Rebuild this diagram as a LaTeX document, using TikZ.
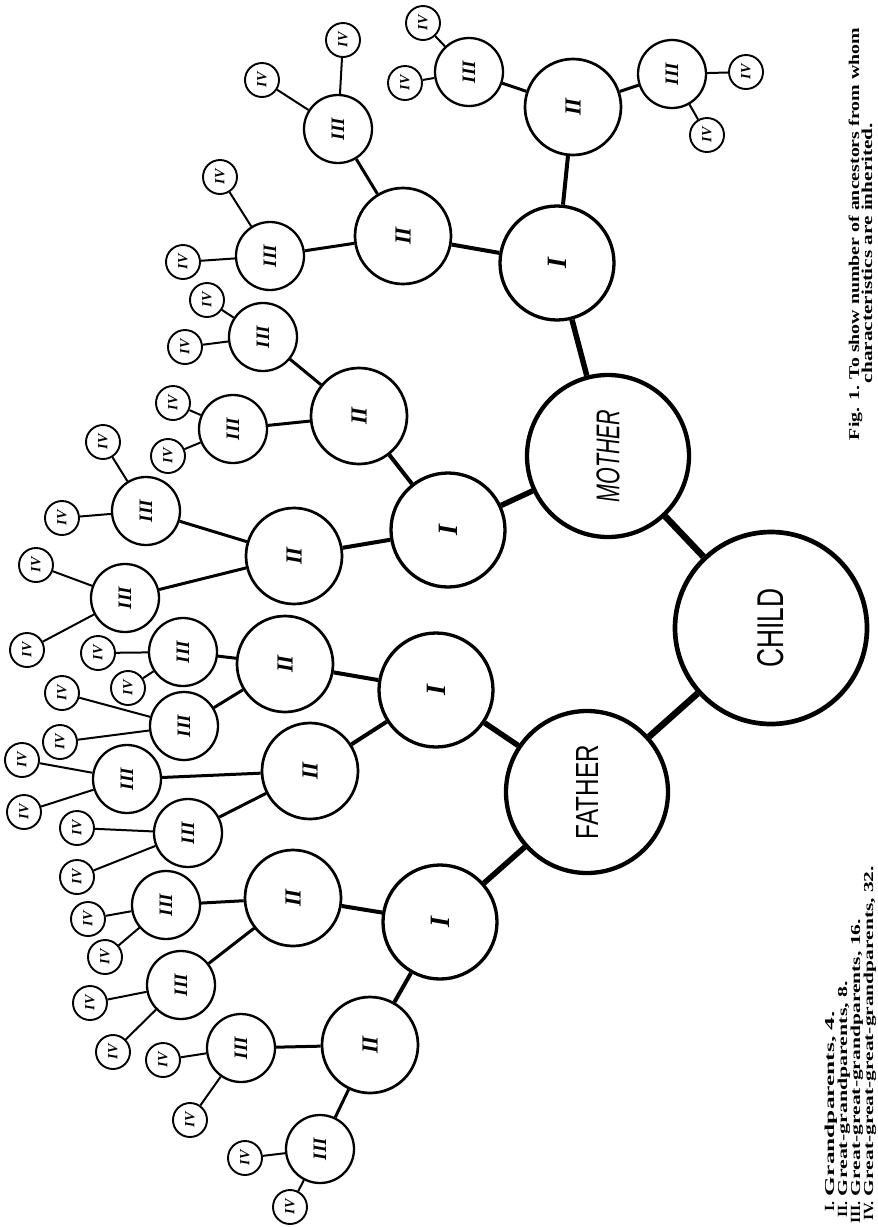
\documentclass[tikz,border=0pt]{standalone}
\usepackage{fontspec}
\setmainfont{Liberation Serif}
\setsansfont{Liberation Sans}
\usepackage{graphicx}
\begin{document}
\begin{tikzpicture}[x=1pt,y=-1pt,
  circ/.style={circle,draw,fill=white,inner sep=0pt,rotate=90},
  cc/.style={circ,minimum size=192pt,line width=4.7pt},
  cp/.style={circ,minimum size=162pt,line width=4.3pt},
  c1/.style={circ,minimum size=114pt,line width=3.3pt,font=\fontsize{28}{28}\selectfont\bfseries\itshape},
  c2/.style={circ,minimum size=96pt,line width=2.7pt,font=\fontsize{23}{23}\selectfont\bfseries\itshape},
  c3/.style={circ,minimum size=68pt,line width=2.3pt,font=\fontsize{19}{19}\selectfont\bfseries\itshape},
  c4/.style={circ,minimum size=34pt,line width=1.9pt,font=\fontsize{14}{14}\selectfont\bfseries\itshape},
  e0/.style={line width=6.5pt},
  e1/.style={line width=5.5pt},
  e2/.style={line width=4pt},
  e3/.style={line width=3pt},
  e4/.style={line width=2pt},
  txt/.style={rotate=90,inner sep=0pt,outer sep=0pt,font=\bfseries}
]
\useasboundingbox (0,0) rectangle (878,1227);
\fill[white] (0,0) rectangle (878,1227);

% main nodes
\node[cc] (C) at (771,628) {\resizebox{79pt}{26pt}{\sffamily CHILD}};
\node[cp] (F) at (587,792) {\resizebox{94pt}{22pt}{\sffamily FATHER}};
\node[cp] (M) at (608,456) {\resizebox{93pt}{23pt}{\sffamily\itshape MOTHER}};

% grandparents I
\foreach \n/\x/\y in {MI1/557/263, MI2/448/530, FI1/436/690, FI2/440/922}
  \node[c1] (\n) at (\x,\y) {I};

% II
\foreach \n/\x/\y in {MA/573/107, MB/403/236, MC/359/416, MD/294/556,
                      FA/285/664, FB/310/771, FC/293/898, FD/370/1045}
  \node[c2] (\n) at (\x,\y) {II};

% III
\foreach \n/\x/\y in {MA1/469/72, MA2/672/74, MB1/338/129, MB2/270/256,
                      MC1/263/337, MC2/233/429, MD1/146/511, MD2/125/598,
                      FA1/183/652, FA2/184/726, FB1/127/779, FB2/188/833,
                      FC1/166/905, FC2/181/985, FD1/241/1048, FD2/320/1149}
  \node[c3] (\n) at (\x,\y) {III};

% IV
\foreach \n/\x/\y in {MA1a/423/23, MA1b/405/83, MA2a/746/72, MA2b/707/135,
                      MB1a/343/40, MB1b/262/80, MB2a/220/177, MB2b/183/262,
                      MC1a/207/300, MC1b/185/347, MC2a/173/403, MC2b/168/456,
                      MD1a/103/442, MD1b/62/518, MD2a/36/565, MD2b/27/650,
                      FA1a/98/653, FA1b/128/688, FA2a/62/693, FA2b/60/742,
                      FB1a/22/760, FB1b/24/812, FB2a/77/828, FB2b/77/877,
                      FC1a/88/919, FC1b/105/957, FC2a/90/1003, FC2b/113/1052,
                      FD1a/163/1060, FD1b/190/1120, FD2a/245/1158, FD2b/290/1207}
  \node[c4] (\n) at (\x,\y) {IV};

% connectors
\draw[e0] (C) -- (F);
\draw[e0] (C) -- (M);
\foreach \a/\b in {F/FI1, F/FI2, M/MI1, M/MI2}
  \draw[e1] (\a) -- (\b);
\foreach \a/\b in {MI1/MA, MI1/MB, MI2/MC, MI2/MD, FI1/FA, FI1/FB, FI2/FC, FI2/FD}
  \draw[e2] (\a) -- (\b);
\foreach \p in {MA,MB,MC,MD,FA,FB,FC,FD}{
  \draw[e3] (\p) -- (\p1);
  \draw[e3] (\p) -- (\p2);
}
\foreach \p in {MA1,MA2,MB1,MB2,MC1,MC2,MD1,MD2,FA1,FA2,FB1,FB2,FC1,FC2,FD1,FD2}{
  \draw[e4] (\p) -- (\p a);
  \draw[e4] (\p) -- (\p b);
}

% caption
\node[txt,anchor=base west] (cap1) at (859,440)
  {\resizebox{412pt}{10.5pt}{Fig. 1. To show number of ancestors from whom}};
\node[txt,anchor=base west] (cap2) at (872,383)
  {\resizebox{260pt}{10.5pt}{characteristics are inherited.}};

% legend
\node[txt,anchor=base east] (leg1n) at (834,1201) {\fontsize{14}{14}\selectfont\scalebox{1.15}[1]{I.}};
\node[txt,anchor=base west] (leg1t) at (834,1196) {\resizebox{185pt}{9.5pt}{Grandparents, 4.}};
\node[txt,anchor=base east] (leg2n) at (847,1201) {\fontsize{14}{14}\selectfont\scalebox{1.15}[1]{II.}};
\node[txt,anchor=base west] (leg2t) at (847,1196) {\resizebox{215pt}{9.5pt}{Great-grandparents, 8.}};
\node[txt,anchor=base east] (leg3n) at (860,1201) {\fontsize{14}{14}\selectfont\scalebox{1.15}[1]{III.}};
\node[txt,anchor=base west] (leg3t) at (860,1196) {\resizebox{277pt}{9.5pt}{Great-great-grandparents, 16.}};
\node[txt,anchor=base east] (leg4n) at (873,1201) {\fontsize{14}{14}\selectfont\scalebox{1.15}[1]{IV.}};
\node[txt,anchor=base west] (leg4t) at (873,1196) {\resizebox{330pt}{9.5pt}{Great-great-great-grandparents, 32.}};
\end{tikzpicture}
\end{document}
